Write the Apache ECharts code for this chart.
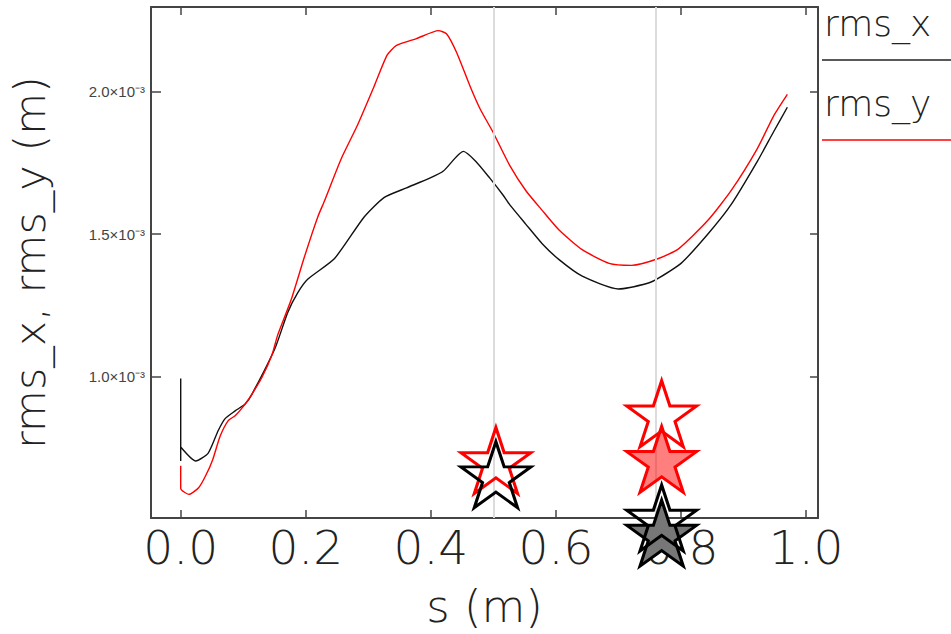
<!DOCTYPE html>
<html><head><meta charset="utf-8">
<script src="https://cdn.jsdelivr.net/npm/echarts@6/dist/echarts.min.js"></script>
<style>html,body{margin:0;padding:0;background:#fff}#c{width:951px;height:634px}</style>
</head><body><div id="c"></div>
<script>
// rms_x (black) samples
const sX = [0, 0, 0, 0.024, 0.044, 0.060, 0.071, 0.087, 0.103, 0.114, 0.151, 0.171, 0.187, 0.203, 0.246, 0.293, 0.325, 0.361, 0.399, 0.420, 0.452, 0.472, 0.494, 0.515, 0.526, 0.552, 0.578, 0.605, 0.642, 0.700, 0.748, 0.764, 0.800, 0.843, 0.880, 0.922, 0.948, 0.970];
const rmsX = [0.993e-3, 0.703e-3, 0.752e-3, 0.703e-3, 0.731e-3, 0.810e-3, 0.852e-3, 0.879e-3, 0.903e-3, 0.938e-3, 1.100e-3, 1.224e-3, 1.293e-3, 1.341e-3, 1.414e-3, 1.559e-3, 1.628e-3, 1.662e-3, 1.697e-3, 1.721e-3, 1.790e-3, 1.755e-3, 1.697e-3, 1.638e-3, 1.603e-3, 1.534e-3, 1.466e-3, 1.410e-3, 1.352e-3, 1.307e-3, 1.328e-3, 1.345e-3, 1.397e-3, 1.500e-3, 1.603e-3, 1.755e-3, 1.859e-3, 1.945e-3];
// rms_y (red) samples
const sY = [0, 0, 0.013, 0.029, 0.040, 0.051, 0.063, 0.076, 0.087, 0.103, 0.114, 0.130, 0.146, 0.155, 0.177, 0.198, 0.219, 0.230, 0.257, 0.282, 0.309, 0.330, 0.345, 0.377, 0.412, 0.425, 0.441, 0.463, 0.479, 0.499, 0.526, 0.552, 0.578, 0.605, 0.642, 0.685, 0.721, 0.764, 0.796, 0.843, 0.880, 0.922, 0.948, 0.970];
const rmsY = [0.686e-3, 0.607e-3, 0.586e-3, 0.610e-3, 0.652e-3, 0.707e-3, 0.790e-3, 0.845e-3, 0.862e-3, 0.903e-3, 0.938e-3, 0.997e-3, 1.076e-3, 1.145e-3, 1.272e-3, 1.421e-3, 1.559e-3, 1.617e-3, 1.766e-3, 1.879e-3, 2.017e-3, 2.128e-3, 2.162e-3, 2.186e-3, 2.214e-3, 2.203e-3, 2.138e-3, 2.017e-3, 1.938e-3, 1.859e-3, 1.741e-3, 1.652e-3, 1.583e-3, 1.514e-3, 1.445e-3, 1.397e-3, 1.390e-3, 1.414e-3, 1.448e-3, 1.548e-3, 1.652e-3, 1.800e-3, 1.914e-3, 1.990e-3];
// vertical marker lines
const markerS = [0.501, 0.764];
// star markers
const redOutlineS = [0.504, 0.769], redOutlineV = [0.705e-3, 0.869e-3];
const redFilledS = [0.769], redFilledV = [0.709e-3];
const grayFilledS = [0.769], grayFilledV = [0.450e-3];
const blackOutlineS = [0.504, 0.769], blackOutlineV = [0.655e-3, 0.503e-3];
// ticks
const xTicks = [0, 0.2, 0.4, 0.6, 0.8, 1.0];
const yTicks = [1.0e-3, 1.5e-3, 2.0e-3];

const zip = (a, b) => a.map((v, i) => [v, b[i]]);
const STAR = 'path://M50,0 L61.23,34.55 L97.55,34.55 L68.16,55.9 L79.39,90.45 L50,69.1 L20.61,90.45 L31.84,55.9 L2.45,34.55 L38.77,34.55 Z';
const FONT = 'DejaVu Sans';
const AX = '#444';

const chart = echarts.init(document.getElementById('c'), null, {renderer: 'svg'});
const starSeries = (s, v, fill, stroke) => ({
  type: 'scatter', data: zip(s, v), symbol: STAR, symbolSize: [70, 66], clip: false,
  itemStyle: {color: fill, borderColor: stroke, borderWidth: 3, opacity: 1},
  emphasis: {disabled: true}, silent: true, z: 5
});
chart.setOption({
  animation: false,
  grid: {left: 145, top: 7, right: 133, bottom: 108, containLabel: false},
  xAxis: [{
    type: 'value', min: -0.0475, max: 1.019, position: 'bottom',
    splitLine: {show: false},
    axisLine: {show: true, onZero: false, lineStyle: {color: AX, width: 2}},
    axisTick: {show: true, inside: true, length: 8, customValues: xTicks, lineStyle: {color: AX, width: 1.5}},
    axisLabel: {customValues: xTicks, formatter: v => v.toFixed(1), fontFamily: FONT, fontWeight: 200, fontSize: 47, color: '#222', margin: 6},
    name: 's (m)', nameLocation: 'middle', nameGap: 66,
    nameTextStyle: {fontFamily: FONT, fontWeight: 200, fontSize: 45, color: '#222'}
  }, {
    type: 'value', min: -0.0475, max: 1.019, position: 'top',
    splitLine: {show: false},
    axisLine: {show: true, onZero: false, lineStyle: {color: AX, width: 2}},
    axisTick: {show: true, inside: true, length: 8, customValues: xTicks, lineStyle: {color: AX, width: 1.5}},
    axisLabel: {show: false}
  }],
  yAxis: [{
    type: 'value', min: 0.503e-3, max: 2.297e-3, position: 'left',
    splitLine: {show: false},
    axisLine: {show: true, onZero: false, lineStyle: {color: AX, width: 2}},
    axisTick: {show: true, inside: true, length: 10, customValues: yTicks, lineStyle: {color: AX, width: 1.5}},
    axisLabel: {customValues: yTicks, formatter: v => (v * 1e3).toFixed(1) + '×10⁻³', fontFamily: 'Liberation Sans', fontSize: 15, color: '#444', margin: 6},
    name: 'rms_x, rms_y (m)', nameLocation: 'middle', nameGap: 100, nameRotate: 90,
    nameTextStyle: {fontFamily: FONT, fontWeight: 200, fontSize: 43, color: '#222'}
  }, {
    type: 'value', min: 0.503e-3, max: 2.297e-3, position: 'right',
    splitLine: {show: false},
    axisLine: {show: true, onZero: false, lineStyle: {color: AX, width: 2}},
    axisTick: {show: true, inside: true, length: 8, customValues: yTicks, lineStyle: {color: AX, width: 1.5}},
    axisLabel: {show: false}
  }],
  graphic: [
    {type: 'text', left: 824, top: 5, style: {text: 'rms_x', fontFamily: FONT, fontWeight: 200, fontSize: 36, fill: '#222'}},
    {type: 'line', shape: {x1: 822, y1: 60, x2: 951, y2: 60}, style: {stroke: '#222', lineWidth: 1.5}},
    {type: 'text', left: 824, top: 85, style: {text: 'rms_y', fontFamily: FONT, fontWeight: 200, fontSize: 36, fill: '#222'}},
    {type: 'line', shape: {x1: 822, y1: 140, x2: 951, y2: 140}, style: {stroke: '#ff0000', lineWidth: 1.5}}
  ],
  series: [
    {
      type: 'line', name: 'markers', data: [], silent: true,
      markLine: {symbol: 'none', silent: true, label: {show: false},
        lineStyle: {color: '#dcdcdc', width: 2, type: 'solid'},
        data: markerS.map(s => ({xAxis: s}))}
    },
    {type: 'line', name: 'rms_x', data: zip(sX, rmsX), showSymbol: false, smooth: 0.2,
      lineStyle: {color: '#111', width: 1.4}, silent: true, z: 3},
    {type: 'line', name: 'rms_y', data: zip(sY, rmsY), showSymbol: false, smooth: 0.2,
      lineStyle: {color: '#ff0000', width: 1.4}, silent: true, z: 3},
    starSeries(redOutlineS, redOutlineV, 'rgba(0,0,0,0)', '#ff0000'),
    starSeries(redFilledS, redFilledV, 'rgba(255,0,0,0.5)', '#ff0000'),
    starSeries(grayFilledS, grayFilledV, '#777777', '#000000'),
    starSeries(blackOutlineS, blackOutlineV, 'rgba(0,0,0,0)', '#000000')
  ]
});
</script>
</body></html>
